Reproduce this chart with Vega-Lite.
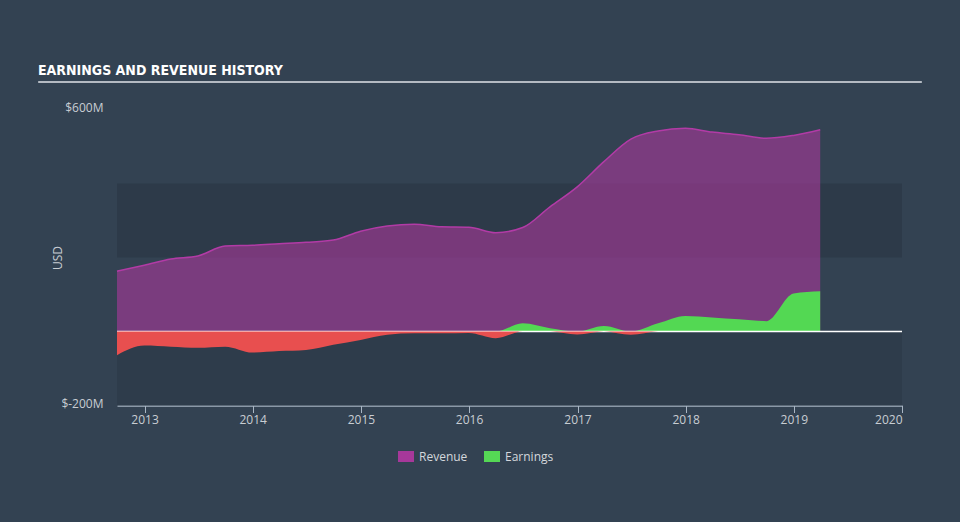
{
  "$schema": "https://vega.github.io/schema/vega-lite/v6.json",
  "width": 785,
  "height": 296,
  "autosize": "none",
  "padding": {"left": 117, "top": 109.5, "right": 58, "bottom": 116.5},
  "background": "#334252",
  "config": {
    "view": {"stroke": null},
    "font": "Open Sans"
  },
  "title": {
    "text": "EARNINGS AND REVENUE HISTORY",
    "anchor": "start",
    "frame": "group",
    "dx": -79,
    "offset": -8,
    "baseline": "alphabetic",
    "font": "DejaVu Sans Condensed",
    "fontSize": 14,
    "fontWeight": "bold",
    "color": "#ffffff"
  },
  "datasets": {
    "hist": [
      {"date": "2012-09-30", "revenue": 163, "earnings": -64},
      {"date": "2012-12-31", "revenue": 179, "earnings": -38},
      {"date": "2013-03-31", "revenue": 196, "earnings": -41},
      {"date": "2013-06-30", "revenue": 204, "earnings": -44},
      {"date": "2013-09-30", "revenue": 231, "earnings": -41},
      {"date": "2013-12-31", "revenue": 233, "earnings": -57},
      {"date": "2014-03-31", "revenue": 237, "earnings": -53},
      {"date": "2014-06-30", "revenue": 241, "earnings": -50},
      {"date": "2014-09-30", "revenue": 247, "earnings": -36},
      {"date": "2014-12-31", "revenue": 271, "earnings": -23},
      {"date": "2015-03-31", "revenue": 285, "earnings": -9},
      {"date": "2015-06-30", "revenue": 290, "earnings": -5},
      {"date": "2015-09-30", "revenue": 283, "earnings": -5},
      {"date": "2015-12-31", "revenue": 282, "earnings": -4},
      {"date": "2016-03-31", "revenue": 267, "earnings": -18},
      {"date": "2016-06-30", "revenue": 281, "earnings": 22},
      {"date": "2016-09-30", "revenue": 337, "earnings": 9},
      {"date": "2016-12-31", "revenue": 391, "earnings": -8},
      {"date": "2017-03-31", "revenue": 459, "earnings": 15},
      {"date": "2017-06-30", "revenue": 520, "earnings": -9},
      {"date": "2017-09-30", "revenue": 542, "earnings": 22},
      {"date": "2017-12-31", "revenue": 549, "earnings": 42},
      {"date": "2018-03-31", "revenue": 539, "earnings": 38},
      {"date": "2018-06-30", "revenue": 532, "earnings": 33},
      {"date": "2018-09-30", "revenue": 522, "earnings": 28},
      {"date": "2018-12-31", "revenue": 530, "earnings": 103},
      {"date": "2019-03-31", "revenue": 545, "earnings": 109}
    ]
  },
  "data": {"name": "hist"},
  "layer": [
    {
      "layer": [
        {
          "data": {"values": [{"band": "a"}]},
          "mark": {"type": "rect", "color": "#2e3c4b"},
          "encoding": {"y": {"datum": -200, "type": "quantitative"}, "y2": {"datum": 0}}
        },
        {
          "data": {"values": [{"band": "b"}]},
          "mark": {"type": "rect", "color": "#2d3a49"},
          "encoding": {"y": {"datum": 200, "type": "quantitative"}, "y2": {"datum": 400}}
        },
        {
          "mark": {"type": "area", "interpolate": "monotone", "fillOpacity": 0.62},
          "encoding": {
            "x": {"field": "date", "type": "temporal"},
            "y": {"field": "revenue", "type": "quantitative"},
            "y2": {"datum": 0},
            "color": {
              "datum": "Revenue",
              "type": "nominal",
              "scale": {"domain": ["Revenue", "Earnings"], "range": ["#a6389a", "#55d855"]},
              "legend": {
                "title": null,
                "orient": "none",
                "legendX": 281,
                "legendY": 339,
                "direction": "horizontal",
                "symbolType": "M-1,-0.69H1V0.69H-1Z",
                "symbolSize": 256,
                "symbolOpacity": 1,
                "symbolStrokeWidth": 0,
                "labelColor": "#d4d8dc",
                "labelFont": "Open Sans",
                "labelFontSize": 12,
                "labelOffset": 5,
                "columnPadding": 16
              }
            }
          }
        },
        {
          "mark": {"type": "line", "interpolate": "monotone", "color": "#b23ba6", "strokeWidth": 1.5},
          "encoding": {
            "x": {"field": "date", "type": "temporal"},
            "y": {"field": "revenue", "type": "quantitative"}
          }
        },
        {
          "data": {"values": [{"line": "title"}]},
          "mark": {"type": "rule", "color": "#b4bac2", "strokeWidth": 2},
          "encoding": {
            "x": {"datum": {"year": 2012, "month": 1, "date": 8, "utc": true}, "type": "temporal"},
            "x2": {"datum": {"year": 2020, "month": 3, "date": 8, "utc": true}},
            "y": {"datum": 674, "type": "quantitative"}
          }
        }
      ],
      "encoding": {
        "x": {
          "type": "temporal",
          "scale": {
            "type": "utc",
            "domain": [
              {"year": 2012, "month": 9, "date": 30, "utc": true},
              {"year": 2020, "month": 1, "date": 1, "utc": true}
            ]
          },
          "axis": {
            "title": null,
            "format": "%Y",
            "tickCount": "year",
            "grid": false,
            "domain": true,
            "domainColor": "#a9b6c4",
            "domainWidth": 1.5,
            "ticks": true,
            "tickColor": "#a9b6c4",
            "tickSize": 7,
            "tickWidth": 1,
            "labelColor": "#c8cdd2",
            "labelFont": "Open Sans",
            "labelFontSize": 12,
            "labelPadding": 2
          }
        },
        "y": {
          "type": "quantitative",
          "scale": {"domain": [-200, 600], "nice": false, "zero": false},
          "axis": {
            "title": "USD",
            "titleX": -60,
            "titleY": 148,
            "titleAngle": 270,
            "titleAlign": "center",
            "titleBaseline": "middle",
            "titleColor": "#c8cdd2",
            "titleFont": "Open Sans",
            "titleFontSize": 12,
            "titleFontWeight": "normal",
            "values": [-200, 600],
            "labelExpr": "'$' + datum.value + 'M'",
            "labelColor": "#c8cdd2",
            "labelFont": "Open Sans",
            "labelFontSize": 12,
            "labelPadding": 14,
            "labelOffset": -2,
            "domain": false,
            "ticks": false,
            "grid": false
          }
        }
      }
    },
    {
      "layer": [
        {
          "mark": {"type": "area", "interpolate": "monotone", "color": "#53d853"},
          "encoding": {
            "x": {"field": "date", "type": "temporal"},
            "y": {"field": "earnings", "type": "quantitative"},
            "y2": {"datum": 0}
          }
        },
        {
          "data": {"values": [{"line": "zero"}]},
          "mark": {"type": "rule", "color": "#ffffff", "strokeWidth": 1.5},
          "encoding": {"y": {"datum": 0, "type": "quantitative"}}
        }
      ],
      "encoding": {
        "y": {
          "type": "quantitative",
          "scale": {"domain": [0, 600], "range": [222, 0], "clamp": true, "nice": false, "zero": false},
          "axis": null
        }
      }
    },
    {
      "mark": {"type": "area", "interpolate": "monotone", "color": "#e84f4f"},
      "encoding": {
        "x": {"field": "date", "type": "temporal"},
        "y": {
          "field": "earnings",
          "type": "quantitative",
          "scale": {"domain": [-200, 0], "range": [296, 222], "clamp": true, "nice": false, "zero": false},
          "axis": null
        },
        "y2": {"datum": 0}
      }
    }
  ],
  "resolve": {"scale": {"y": "independent"}}
}
